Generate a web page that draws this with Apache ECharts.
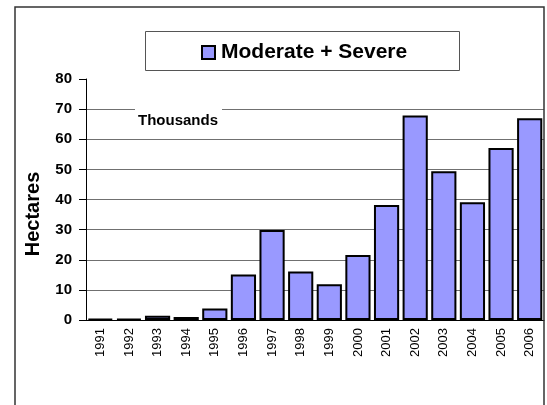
<!DOCTYPE html>
<html>
<head>
<meta charset="utf-8">
<script src="https://cdn.jsdelivr.net/npm/echarts@6/dist/echarts.min.js"></script>
<style>
    html, body { margin: 0; padding: 0; background: #fff; }
    #chart { width: 547px; height: 405px; }
</style>
</head>
<body>
<div id="chart"></div>
<script>
let years = ['1991', '1992', '1993', '1994', '1995', '1996', '1997', '1998',
    '1999', '2000', '2001', '2002', '2003', '2004', '2005', '2006'];
let moderate_severe = [0.4, 0.4, 1.4, 1.0, 3.8, 15.1, 29.9, 16.1,
    11.9, 21.6, 38.2, 67.9, 49.4, 39.1, 57.1, 67.0];
let y_ticks = [0, 10, 20, 30, 40, 50, 60, 70, 80];
let series_name = 'Moderate + Severe';
let y_name = 'Hectares';
let units_label = 'Thousands';

let font = '"Liberation Sans", Arial, sans-serif';

let option = {
    animation: false,
    grid: {
        left: 86,
        right: 3,
        top: 79,
        bottom: 85
    },
    legend: {
        data: [series_name],
        left: 196,
        top: 37,
        icon: 'rect',
        itemWidth: 13,
        itemHeight: 13,
        itemGap: 0,
        textStyle: {
            fontFamily: font,
            fontSize: 21,
            fontWeight: 'bold',
            color: '#000',
            padding: [0, 0, 0, 1]
        }
    },
    xAxis: {
        type: 'category',
        data: years,
        axisLine: { lineStyle: { color: '#000', width: 1 } },
        axisTick: { length: 4, lineStyle: { color: '#000' } },
        axisLabel: {
            rotate: 90,
            margin: 8,
            fontFamily: font,
            fontSize: 13,
            color: '#000'
        }
    },
    yAxis: {
        type: 'value',
        min: y_ticks[0],
        max: y_ticks[y_ticks.length - 1],
        interval: 10,
        axisLine: { show: true, lineStyle: { color: '#000', width: 1 } },
        axisTick: { show: true, length: 7, lineStyle: { color: '#000' } },
        axisLabel: {
            margin: 14,
            fontFamily: font,
            fontSize: 15,
            fontWeight: 'bold',
            color: '#000'
        },
        splitLine: {
            show: true,
            showMaxLine: false,
            lineStyle: { color: '#707070', width: 1 }
        }
    },
    series: [
        {
            name: series_name,
            type: 'bar',
            data: moderate_severe,
            barCategoryGap: '12%',
            itemStyle: {
                color: '#9999FF',
                borderColor: '#000',
                borderWidth: 2
            }
        }
    ],
    graphic: [
        // outer chart frame
        {
            type: 'rect',
            shape: { x: 15, y: 7, width: 529, height: 420 },
            style: { fill: 'none', stroke: '#333', lineWidth: 1.5 },
            z: 100
        },
        // legend frame
        {
            type: 'rect',
            shape: { x: 145.5, y: 31.5, width: 314, height: 39 },
            style: { fill: 'none', stroke: '#555', lineWidth: 1 },
            z: 100
        },
        // axis title, placed like the original (below the plot middle)
        {
            type: 'text',
            x: 33,
            y: 214,
            rotation: Math.PI / 2,
            style: {
                text: y_name,
                fontFamily: font,
                fontSize: 20,
                fontWeight: 'bold',
                fill: '#000',
                align: 'center',
                verticalAlign: 'middle'
            },
            z: 100
        },
        // display units label, hides the gridline behind it
        {
            type: 'rect',
            shape: { x: 135, y: 104, width: 87, height: 10 },
            style: { fill: '#fff' },
            z: 50
        },
        {
            type: 'text',
            left: 138,
            top: 113,
            style: {
                text: units_label,
                fontFamily: font,
                fontSize: 15,
                fontWeight: 'bold',
                fill: '#000'
            },
            z: 51
        }
    ]
};

let myChart = echarts.init(document.getElementById('chart'), null, { renderer: 'canvas' });
myChart.setOption(option);
</script>
</body>
</html>
